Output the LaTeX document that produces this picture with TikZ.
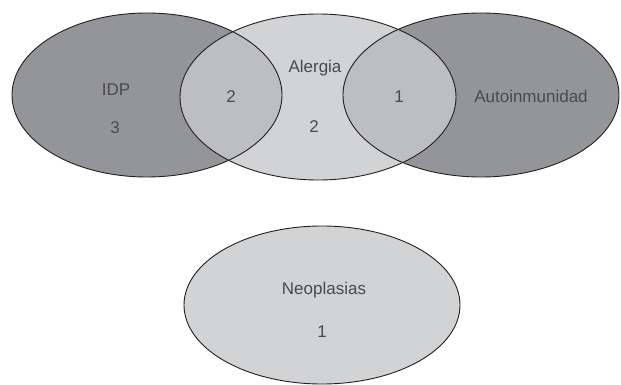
\documentclass[tikz,border=0pt]{standalone}
\usepackage{fontspec}
\setmainfont{Liberation Sans}
\definecolor{darkg}{HTML}{939598}
\definecolor{lightg}{HTML}{D1D3D4}
\definecolor{midg}{HTML}{BCBEC0}
\definecolor{edge}{HTML}{231F20}
\definecolor{txt}{HTML}{4A4A4C}
\tikzset{
  lbl/.style={anchor=base, text=txt, font=\fontsize{17pt}{19pt}\selectfont, inner sep=0pt},
  rim/.style={draw=edge, line width=0.9pt}
}
\begin{document}
\begin{tikzpicture}[x=1pt,y=-1pt]
\useasboundingbox (0,0) rectangle (621,385);
% fills
\fill[darkg] (147,95) ellipse [x radius=135, y radius=82];
\fill[darkg] (481,95) ellipse [x radius=138, y radius=82];
\fill[lightg] (318,97) ellipse [x radius=138, y radius=83];
\begin{scope}
  \clip (318,97) ellipse [x radius=138, y radius=83];
  \fill[midg] (147,95) ellipse [x radius=135, y radius=82];
  \fill[midg] (481,95) ellipse [x radius=138, y radius=82];
\end{scope}
\fill[lightg] (322,305) ellipse [x radius=138, y radius=79];
% outlines
\draw[rim] (147,95) ellipse [x radius=135, y radius=82];
\draw[rim] (481,95) ellipse [x radius=138, y radius=82];
\draw[rim] (318,97) ellipse [x radius=138, y radius=83];
\draw[rim] (322,305) ellipse [x radius=138, y radius=79];
% labels
\node[lbl] (idp) at (116,96) {IDP};
\node[lbl] (idpn) at (115,134) {3};
\node[lbl] (ia) at (231,103) {2};
\node[lbl] (al) at (315,73) {Alergia};
\node[lbl] (aln) at (314,133) {2};
\node[lbl] (aa) at (399,103) {1};
\node[lbl] (au) at (531,103) {Autoinmunidad};
\node[lbl] (ne) at (324,294) {Neoplasias};
\node[lbl] (nen) at (322,337) {1};
\end{tikzpicture}
\end{document}
